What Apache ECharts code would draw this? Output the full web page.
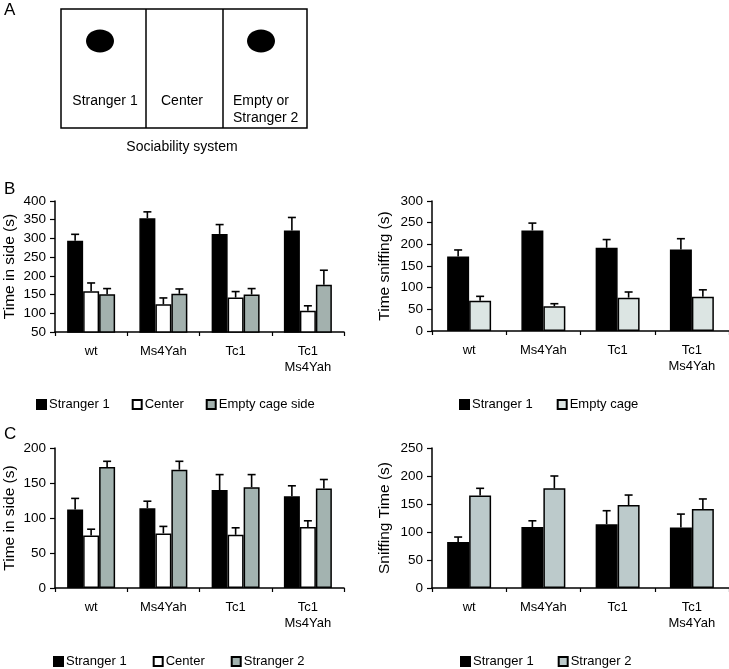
<!DOCTYPE html>
<html>
<head>
<meta charset="utf-8">
<script src="https://cdn.jsdelivr.net/npm/echarts@6/dist/echarts.min.js"></script>
<style>
html,body{margin:0;padding:0;background:#fff;}
#chart{width:729px;height:669px;}
</style>
</head>
<body>
<div id="chart"></div>
<script>
// ---------- data ----------
var categories = ['wt', 'Ms4Yah', 'Tc1', 'Tc1\nMs4Yah'];

// Panel B left: time in side (s)
var sideB_stranger1 = [294, 354, 312, 321];
var sideB_stranger1_err = [17, 17, 25, 35];
var sideB_center = [159, 124, 142, 107];
var sideB_center_err = [22, 17, 16, 13];
var sideB_empty = [151, 152, 150, 176];
var sideB_empty_err = [15, 13, 16, 39];

// Panel B right: time sniffing (s)
var sniffB_stranger1 = [172, 232, 192, 188];
var sniffB_stranger1_err = [15, 17, 19, 25];
var sniffB_empty = [70, 57, 77, 79];
var sniffB_empty_err = [10, 6, 13, 16];

// Panel C left: time in side (s)
var sideC_stranger1 = [112, 114, 140, 131];
var sideC_stranger1_err = [16, 10, 22, 15];
var sideC_center = [75, 78, 76, 87];
var sideC_center_err = [9, 10, 10, 9];
var sideC_stranger2 = [173, 169, 144, 142];
var sideC_stranger2_err = [8, 12, 18, 13];

// Panel C right: sniffing time (s)
var sniffC_stranger1 = [82, 109, 114, 108];
var sniffC_stranger1_err = [9, 11, 24, 24];
var sniffC_stranger2 = [165, 178, 148, 141];
var sniffC_stranger2_err = [13, 22, 18, 18];

// ---------- styling ----------
var FONT = 'Liberation Sans, Arial, sans-serif';
var GAP3 = 0.336, GAP2 = 0.408;
var COL = {
  black: '#000000', white: '#ffffff',
  grayB: '#a3b1ae', lightB: '#dce5e3', grayC: '#a3b3b0', grayC2: '#bccacb'
};

var grids = [
  {left: 55, top: 201, width: 289, height: 131},
  {left: 432, top: 201, width: 297, height: 130},
  {left: 55, top: 448, width: 289, height: 140},
  {left: 432, top: 448, width: 297, height: 140}
];

function xAx(i) {
  return {
    type: 'category', gridIndex: i, data: categories,
    axisLine: {lineStyle: {color: '#000', width: 1.5}},
    axisTick: {show: true, length: 4, lineStyle: {color: '#000', width: 1.2}},
    axisLabel: {color: '#000', fontSize: 13, fontFamily: FONT, margin: 11, lineHeight: 16}
  };
}
function yAx(i, min, max, interval, name, gap) {
  return {
    type: 'value', gridIndex: i, min: min, max: max, interval: interval,
    name: name, nameLocation: 'middle', nameGap: gap, nameRotate: 90,
    nameTextStyle: {color: '#000', fontSize: 15.5, fontFamily: FONT},
    axisLine: {show: true, lineStyle: {color: '#000', width: 1.5}},
    axisTick: {show: true, length: 5, lineStyle: {color: '#000', width: 1.2}},
    axisLabel: {color: '#000', fontSize: 13.5, fontFamily: FONT, margin: 9},
    splitLine: {show: false}
  };
}

function bar(name, gi, data, color, gap) {
  return {
    type: 'bar', name: name, xAxisIndex: gi, yAxisIndex: gi, data: data,
    barGap: '0%', barCategoryGap: (gap * 100) + '%',
    itemStyle: {color: color, borderColor: '#000', borderWidth: 1.5},
    z: 2
  };
}

function errBar(gi, means, errs, idx, n, gap) {
  var d = means.map(function (m, k) { return [k, m, errs[k]]; });
  return {
    type: 'custom', xAxisIndex: gi, yAxisIndex: gi, data: d, z: 3,
    encode: {x: 0, y: 1},
    renderItem: function (params, api) {
      var cat = api.value(0), m = api.value(1), e = api.value(2);
      var base = api.coord([cat, m]);
      var top = api.coord([cat, m + e]);
      var band = api.size([1, 0])[0];
      var inner = band * (1 - gap);
      var bw = inner / n;
      var x = base[0] - inner / 2 + bw * (idx + 0.5);
      var st = {stroke: '#000', lineWidth: 1.6};
      return {
        type: 'group',
        children: [
          {type: 'line', shape: {x1: x, y1: base[1], x2: x, y2: top[1]}, style: st},
          {type: 'line', shape: {x1: x - 4, y1: top[1], x2: x + 4, y2: top[1]}, style: st}
        ]
      };
    }
  };
}

function legend(left, top, gap, items) {
  return {
    left: left, top: top, orient: 'horizontal', itemGap: gap, padding: 0,
    itemWidth: 9, itemHeight: 9, icon: 'rect', selectedMode: false,
    textStyle: {color: '#000', fontSize: 13, fontFamily: FONT, padding: [0, 0, 0, -2]},
    data: items
  };
}

var option = {
  animation: false,
  backgroundColor: '#fff',
  textStyle: {fontFamily: FONT},
  grid: grids,
  xAxis: [xAx(0), xAx(1), xAx(2), xAx(3)],
  yAxis: [
    yAx(0, 50, 400, 50, 'Time in side (s)', 37),
    yAx(1, 0, 300, 50, 'Time sniffing (s)', 39),
    yAx(2, 0, 200, 50, 'Time in side (s)', 37),
    yAx(3, 0, 250, 50, 'Sniffing Time (s)', 39)
  ],
  legend: [
    legend(36, 398, 22, [
      {name: 'Stranger 1', itemStyle: {color: COL.black}},
      {name: 'Center', itemStyle: {color: COL.white}},
      {name: 'Empty cage side', itemStyle: {color: COL.grayB}}
    ]),
    legend(459, 398, 24, [
      {name: 'Stranger 1', itemStyle: {color: COL.black}},
      {name: 'Empty cage', itemStyle: {color: COL.lightB}}
    ]),
    legend(53, 655, 26, [
      {name: 'Stranger 1', itemStyle: {color: COL.black}},
      {name: 'Center', itemStyle: {color: COL.white}},
      {name: 'Stranger 2', itemStyle: {color: COL.grayC}}
    ]),
    legend(460, 655, 24, [
      {name: 'Stranger 1', itemStyle: {color: COL.black}},
      {name: 'Stranger 2', itemStyle: {color: COL.grayC2}}
    ])
  ],
  series: [
    bar('Stranger 1', 0, sideB_stranger1, COL.black, GAP3),
    bar('Center', 0, sideB_center, COL.white, GAP3),
    bar('Empty cage side', 0, sideB_empty, COL.grayB, GAP3),
    errBar(0, sideB_stranger1, sideB_stranger1_err, 0, 3, GAP3),
    errBar(0, sideB_center, sideB_center_err, 1, 3, GAP3),
    errBar(0, sideB_empty, sideB_empty_err, 2, 3, GAP3),

    bar('Stranger 1', 1, sniffB_stranger1, COL.black, GAP2),
    bar('Empty cage', 1, sniffB_empty, COL.lightB, GAP2),
    errBar(1, sniffB_stranger1, sniffB_stranger1_err, 0, 2, GAP2),
    errBar(1, sniffB_empty, sniffB_empty_err, 1, 2, GAP2),

    bar('Stranger 1', 2, sideC_stranger1, COL.black, GAP3),
    bar('Center', 2, sideC_center, COL.white, GAP3),
    bar('Stranger 2', 2, sideC_stranger2, COL.grayC, GAP3),
    errBar(2, sideC_stranger1, sideC_stranger1_err, 0, 3, GAP3),
    errBar(2, sideC_center, sideC_center_err, 1, 3, GAP3),
    errBar(2, sideC_stranger2, sideC_stranger2_err, 2, 3, GAP3),

    bar('Stranger 1', 3, sniffC_stranger1, COL.black, GAP2),
    bar('Stranger 2', 3, sniffC_stranger2, COL.grayC2, GAP2),
    errBar(3, sniffC_stranger1, sniffC_stranger1_err, 0, 2, GAP2),
    errBar(3, sniffC_stranger2, sniffC_stranger2_err, 1, 2, GAP2)
  ],
  graphic: [
    {type: 'text', left: 4, top: 2, style: {text: 'A', fontSize: 17, fontFamily: FONT, fill: '#000'}},
    {type: 'text', left: 4, top: 181, style: {text: 'B', fontSize: 17, fontFamily: FONT, fill: '#000'}},
    {type: 'text', left: 4, top: 426, style: {text: 'C', fontSize: 17, fontFamily: FONT, fill: '#000'}},
    {type: 'rect', shape: {x: 61, y: 9, width: 246, height: 119}, style: {fill: 'none', stroke: '#000', lineWidth: 1.5}},
    {type: 'line', shape: {x1: 146, y1: 9, x2: 146, y2: 128}, style: {stroke: '#000', lineWidth: 1.5}},
    {type: 'line', shape: {x1: 223, y1: 9, x2: 223, y2: 128}, style: {stroke: '#000', lineWidth: 1.5}},
    {type: 'ellipse', shape: {cx: 100, cy: 41, rx: 14, ry: 11.5}, style: {fill: '#000'}},
    {type: 'ellipse', shape: {cx: 261, cy: 41, rx: 14, ry: 11.5}, style: {fill: '#000'}},
    {type: 'text', x: 105, y: 101, style: {text: 'Stranger 1', fontSize: 14, fontFamily: FONT, fill: '#000', align: 'center', verticalAlign: 'middle'}},
    {type: 'text', x: 182, y: 101, style: {text: 'Center', fontSize: 14, fontFamily: FONT, fill: '#000', align: 'center', verticalAlign: 'middle'}},
    {type: 'text', x: 233, y: 101, style: {text: 'Empty or', fontSize: 14, fontFamily: FONT, fill: '#000', align: 'left', verticalAlign: 'middle'}},
    {type: 'text', x: 233, y: 118, style: {text: 'Stranger 2', fontSize: 14, fontFamily: FONT, fill: '#000', align: 'left', verticalAlign: 'middle'}},
    {type: 'text', x: 182, y: 147, style: {text: 'Sociability system', fontSize: 14, fontFamily: FONT, fill: '#000', align: 'center', verticalAlign: 'middle'}}
  ]
};

var chart = echarts.init(document.getElementById('chart'), null, {renderer: 'canvas'});
chart.setOption(option);
</script>
</body>
</html>
